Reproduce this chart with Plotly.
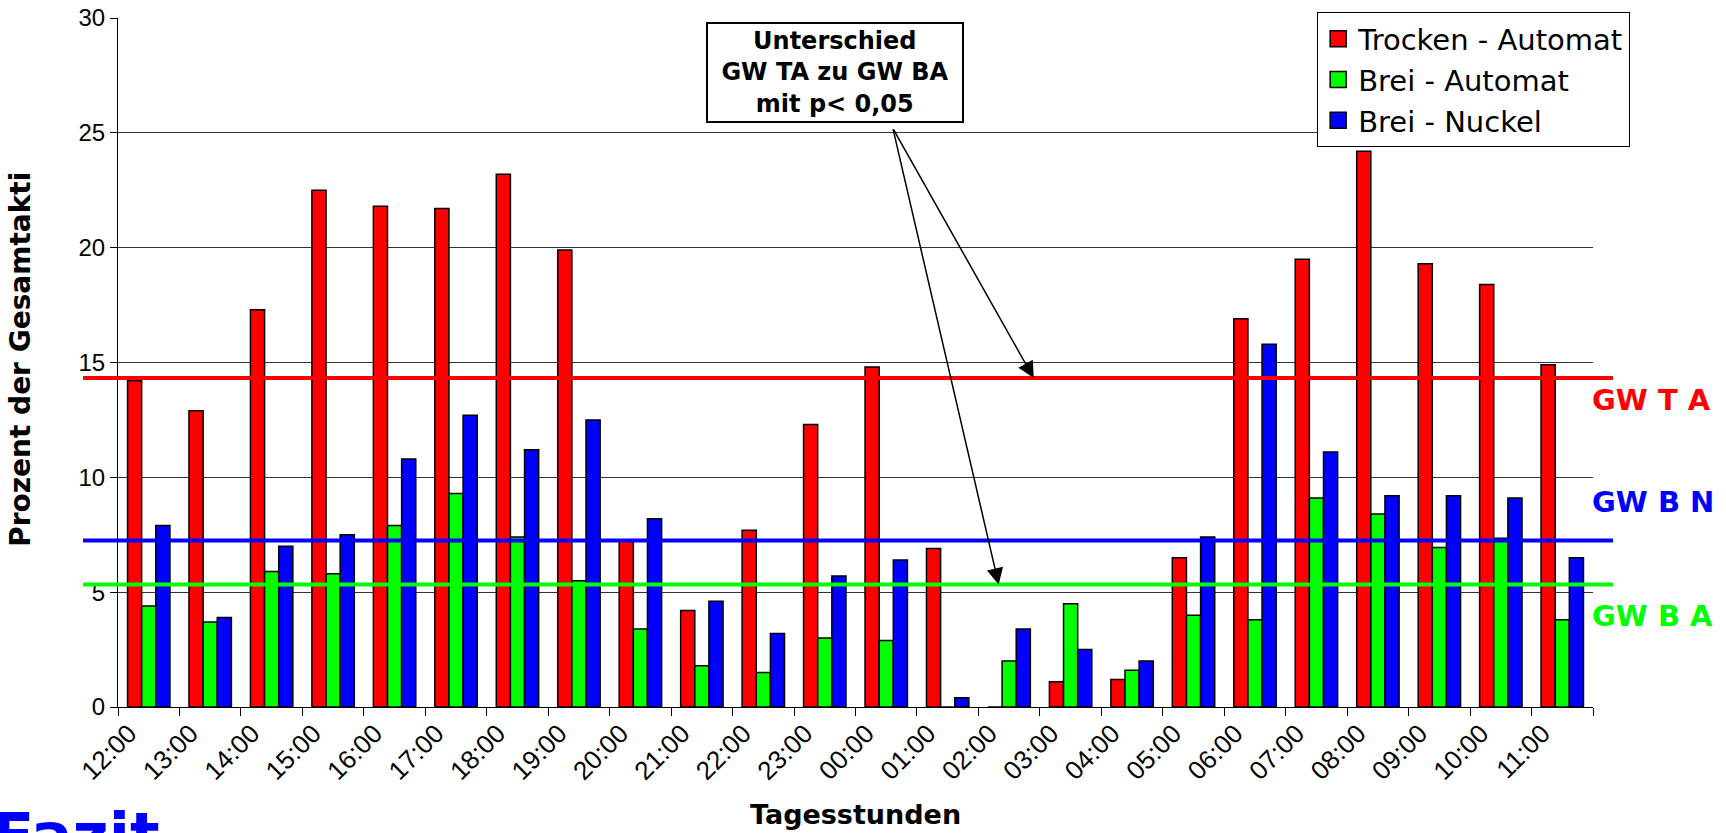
import numpy as np
import plotly.graph_objects as go

hours = ["12:00", "13:00", "14:00", "15:00", "16:00", "17:00", "18:00", "19:00",
         "20:00", "21:00", "22:00", "23:00", "00:00", "01:00", "02:00", "03:00",
         "04:00", "05:00", "06:00", "07:00", "08:00", "09:00", "10:00", "11:00"]

trocken_automat = [14.2, 12.9, 17.3, 22.5, 21.8, 21.7, 23.2, 19.9, 7.25, 4.2, 7.7, 12.3,
                   14.8, 6.9, 0.0, 1.1, 1.2, 6.5, 16.9, 19.5, 24.2, 19.3, 18.4, 14.9]
brei_automat = [4.4, 3.7, 5.9, 5.8, 7.9, 9.3, 7.4, 5.5, 3.4, 1.8, 1.5, 3.0,
                2.9, 0.0, 2.0, 4.5, 1.6, 4.0, 3.8, 9.1, 8.4, 6.95, 7.35, 3.8]
brei_nuckel = [7.9, 3.9, 7.0, 7.5, 10.8, 12.7, 11.2, 12.5, 8.2, 4.6, 3.2, 5.7,
               6.4, 0.4, 3.4, 2.5, 2.0, 7.4, 15.8, 11.1, 9.2, 9.2, 9.1, 6.5]

series_names = ["Trocken - Automat", "Brei - Automat", "Brei - Nuckel"]
series_colors = ["#FF0000", "#00FF00", "#0000FF"]

# Mean values (GW)
gw_ta = 14.32
gw_bn = 7.25
gw_ba = 5.33

FONT = "DejaVu Sans"
TICKFONT = "Liberation Sans"
x = np.arange(len(hours))

fig = go.Figure()
for name, vals, col in zip(series_names, [trocken_automat, brei_automat, brei_nuckel], series_colors):
    fig.add_trace(go.Bar(x=x, y=vals, name=name, showlegend=False,
                         marker=dict(color=col, line=dict(color="black", width=1.5))))
# legend entries with larger square swatches
for name, col in zip(series_names, series_colors):
    fig.add_trace(go.Scatter(x=[None], y=[None], mode="markers", name=name,
                             marker=dict(symbol="square", size=18, color=col,
                                         line=dict(color="black", width=1.5))))

fig.update_layout(
    width=1726, height=833,
    margin=dict(l=118, r=133, t=18, b=126, autoexpand=False),
    paper_bgcolor="white", plot_bgcolor="white",
    barmode="group", bargap=0.31, bargroupgap=0,
    showlegend=True,
    legend=dict(x=0.813, y=1.008, xanchor="left", yanchor="top",
                bgcolor="white", bordercolor="black", borderwidth=1,
                itemsizing="trace", tracegroupgap=0,
                font=dict(family=FONT, size=29, color="black")),
    font=dict(family=FONT, color="black"),
)

fig.update_xaxes(
    automargin=False,
    range=[-0.5, len(hours) - 0.5],
    tickmode="array", tickvals=x - 0.32, ticktext=hours, tickangle=-45,
    ticks="", showgrid=False, zeroline=False,
    showline=True, linecolor="black", linewidth=1,
    tickfont=dict(family=TICKFONT, size=26, color="black"),
    minor=dict(tickmode="array", tickvals=np.arange(len(hours) + 1) - 0.5,
               ticks="outside", ticklen=8, tickwidth=1, tickcolor="black", showgrid=False),
)
fig.update_yaxes(
    automargin=False,
    range=[0, 30], dtick=5, tick0=0,
    ticks="outside", ticklen=7, tickwidth=1, tickcolor="black",
    showgrid=True, gridcolor="#333333", gridwidth=1,
    zeroline=False, showline=True, linecolor="black", linewidth=1,
    tickfont=dict(family=TICKFONT, size=24, color="black"),
)

# Mean lines
for val, col in [(gw_ta, "#FF0000"), (gw_bn, "#0000FF"), (gw_ba, "#00FF00")]:
    fig.add_shape(type="line", xref="paper", yref="y", x0=-0.0237, x1=1.0136, y0=val, y1=val,
                  line=dict(color=col, width=4), layer="above")

# GW labels
for txt, yp, col in [("GW T A", 0.4456, "#FF0000"), ("GW B N", 0.2975, "#0000FF"), ("GW B A", 0.132, "#00FF00")]:
    fig.add_annotation(text=txt, xref="paper", yref="paper", x=0.998, y=yp, xanchor="left",
                       yanchor="middle", showarrow=False,
                       font=dict(family=FONT, size=29, color=col, weight="bold"))

# Box annotation
fig.add_annotation(text="Unterschied<br>GW TA zu GW BA<br>mit p&lt; 0,05", xref="paper", yref="paper",
                   x=0.4861, y=0.9202, xanchor="center", yanchor="middle", showarrow=False,
                   font=dict(family=FONT, size=24, color="black", weight="bold"),
                   bgcolor="white", bordercolor="black", borderwidth=2, borderpad=1,
                   width=252, height=95, align="center")

# Arrows
fig.add_annotation(text="", x=14.40, y=gw_ta, xref="x", yref="y", ax=-141, ay=-250,
                   showarrow=True, arrowhead=2, arrowsize=2.2, arrowwidth=1.5, arrowcolor="black")
fig.add_annotation(text="", x=13.83, y=gw_ba, xref="x", yref="y", ax=-106, ay=-457,
                   showarrow=True, arrowhead=2, arrowsize=2.2, arrowwidth=1.5, arrowcolor="black")

# Axis titles
fig.add_annotation(text="Prozent der Gesamtakti", xref="paper", yref="paper", x=-0.0657, y=0.504,
                   textangle=-90, showarrow=False, xanchor="center", yanchor="middle",
                   font=dict(family=FONT, size=28, color="black", weight="bold"))
fig.add_annotation(text="Tagesstunden", xref="paper", yref="paper", x=0.5, y=-0.1553,
                   showarrow=False, xanchor="center", yanchor="middle",
                   font=dict(family=FONT, size=27, color="black", weight="bold"))

# Partially visible slide text (cut at the bottom edge, as in the original)
fig.add_annotation(text="Fazit", xref="paper", yref="paper", x=-0.0868, y=-0.131,
                   showarrow=False, xanchor="left", yanchor="top",
                   font=dict(family=FONT, size=62, color="#0000FF", weight="bold"))

fig.write_html("out.html")
